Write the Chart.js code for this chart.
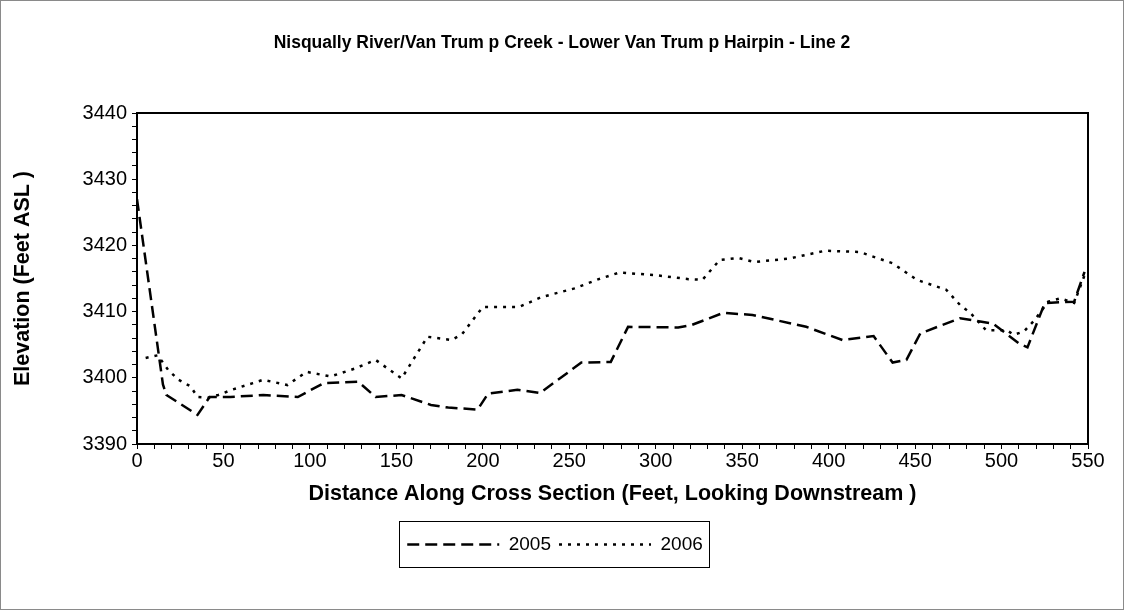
<!DOCTYPE html>
<html>
<head>
<meta charset="utf-8">
<script src="https://cdn.jsdelivr.net/npm/chart.js@4"></script>
<style>
  html, body { margin: 0; padding: 0; background: #ffffff; }
  #wrap { width: 1124px; height: 610px; position: relative; }
  canvas { display: block; }
</style>
</head>
<body>
<div id="wrap"><canvas id="c" width="1124" height="610"></canvas></div>
<script>
// ---- Data ----
const chartTitle = "Nisqually River/Van Trum p Creek - Lower Van Trum p Hairpin - Line 2";
const xAxisTitle = "Distance Along Cross Section (Feet, Looking Downstream )";
const yAxisTitle = "Elevation (Feet ASL )";
const seriesNames = ["2005", "2006"];

const dist2005 = [0, 15, 17, 35, 42, 54, 73, 93, 108, 128, 138, 153, 170, 180, 197, 203, 220, 233, 257, 274, 284, 313, 321, 339, 356, 387, 408, 426, 437, 445, 453, 476, 495, 510, 515, 525, 542, 548];
const elev2005 = [3427, 3399, 3397.4, 3394.4, 3397.1, 3397.1, 3397.4, 3397.1, 3399.2, 3399.4, 3397.1, 3397.4, 3395.9, 3395.5, 3395.2, 3397.6, 3398.2, 3397.7, 3402.3, 3402.4, 3407.7, 3407.6, 3408, 3409.8, 3409.5, 3407.7, 3405.7, 3406.3, 3402.3, 3402.7, 3406.7, 3409, 3408.2, 3405.2, 3404.6, 3411.3, 3411.5, 3416];

const dist2006 = [5, 12, 18, 24, 31, 35, 41, 47, 55, 67, 73, 87, 98, 112, 126, 138, 153, 168, 182, 188, 200, 221, 234, 253, 267, 279, 300, 319, 327, 337, 348, 357, 377, 398, 418, 437, 451, 468, 476, 482, 491, 503, 507, 513, 519, 527, 534, 542, 548];
const elev2006 = [3403, 3403.4, 3401.2, 3399.7, 3398.7, 3397.1, 3397, 3397.4, 3398.2, 3399.2, 3399.7, 3398.9, 3400.9, 3400.2, 3401.4, 3402.7, 3399.9, 3406.2, 3405.7, 3406.6, 3410.7, 3410.7, 3412.2, 3413.5, 3414.9, 3415.9, 3415.5, 3414.9, 3414.8, 3417.8, 3418.1, 3417.5, 3418, 3419.2, 3419, 3417.3, 3414.8, 3413.3, 3411, 3409.8, 3407.2, 3407.2, 3406.5, 3407, 3408.7, 3411.5, 3412, 3411.3, 3415.5];

const xMin = 0, xMax = 550, xMajor = 50, xMinor = 10;
const yMin = 3390, yMax = 3440, yMajor = 10, yMinor = 2;

const toPoints = (xs, ys) => xs.map((x, i) => ({ x: x, y: ys[i] }));

const FONT = "'Liberation Sans', Arial, Helvetica, sans-serif";
const LEGEND_SHIFT = 6;
const TITLE_SHIFT = 13;

// frame + plot border + legend box
const decor = {
  id: 'decor',
  afterUpdate(chart) {
    const lg = chart.legend;
    if (lg) {
      lg.left += LEGEND_SHIFT;
      lg.right += LEGEND_SHIFT;
      (lg.legendHitBoxes || []).forEach(h => { h.left += LEGEND_SHIFT; });
    }
    const tb = chart.titleBlock;
    if (tb) {
      tb.left += TITLE_SHIFT;
      tb.right += TITLE_SHIFT;
    }
  },
  afterDraw(chart) {
    const ctx = chart.ctx;
    const a = chart.chartArea;
    ctx.save();
    // outer frame
    ctx.strokeStyle = '#8a8a8a';
    ctx.lineWidth = 1;
    ctx.strokeRect(0.5, 0.5, chart.width - 1, chart.height - 1);
    // plot rectangle
    ctx.strokeStyle = '#000';
    ctx.lineWidth = 2;
    ctx.strokeRect(a.left, a.top, a.right - a.left, a.bottom - a.top);
    // legend box
    const hb = chart.legend && chart.legend.legendHitBoxes;
    if (hb && hb.length) {
      let l = Infinity, r = -Infinity, t = Infinity, b = -Infinity;
      hb.forEach(h => { l = Math.min(l, h.left); r = Math.max(r, h.left + h.width); t = Math.min(t, h.top); b = Math.max(b, h.top + h.height); });
      ctx.lineWidth = 1;
      ctx.strokeStyle = '#000';
      ctx.strokeRect(Math.round(l - 8) + 0.5, Math.round(t - 14) + 0.5, Math.round(r - l + 14), Math.round(b - t + 27));
    }
    ctx.restore();
  }
};

new Chart(document.getElementById('c'), {
  type: 'scatter',
  data: {
    datasets: [
      {
        label: seriesNames[0],
        data: toPoints(dist2005, elev2005),
        showLine: true,
        borderColor: '#000',
        backgroundColor: '#000',
        borderWidth: 2.5,
        borderDash: [12, 6],
        pointRadius: 0,
        pointStyle: 'line',
        tension: 0
      },
      {
        label: seriesNames[1],
        data: toPoints(dist2006, elev2006),
        showLine: true,
        borderColor: '#000',
        backgroundColor: '#000',
        borderWidth: 2.5,
        borderDash: [3, 6],
        pointRadius: 0,
        pointStyle: 'line',
        tension: 0
      }
    ]
  },
  options: {
    responsive: false,
    animation: false,
    devicePixelRatio: 1,
    layout: { padding: { top: 0, left: 10, right: 36, bottom: 46 } },
    plugins: {
      title: {
        display: true,
        text: chartTitle,
        color: '#000',
        font: { family: FONT, size: 17.5, weight: 'bold' },
        padding: { top: 33, bottom: 59 }
      },
      legend: {
        display: true,
        position: 'bottom',
        labels: {
          color: '#000',
          font: { family: FONT, size: 19 },
          usePointStyle: true,
          pointStyleWidth: 92,
          padding: 8,
          generateLabels(chart) {
            const items = Chart.defaults.plugins.legend.labels.generateLabels(chart);
            items.forEach((it) => {
              const ds = chart.data.datasets[it.datasetIndex];
              it.lineDash = ds.borderDash;
              it.lineWidth = ds.borderWidth;
              it.strokeStyle = ds.borderColor;
              it.pointStyle = 'line';
            });
            return items;
          }
        }
      },
      tooltip: { enabled: false }
    },
    scales: {
      x: {
        type: 'linear',
        min: xMin, max: xMax,
        afterFit(scale) { scale.height = 83; },
        ticks: {
          stepSize: xMinor,
          autoSkip: false,
          maxRotation: 0,
          color: '#000',
          padding: 0,
          font: { family: FONT, size: 20 },
          callback: (v) => (v % xMajor === 0 ? String(v) : '')
        },
        grid: { display: true, drawOnChartArea: false, drawTicks: true, tickLength: 5, color: '#000', lineWidth: 1 },
        border: { display: true, color: '#000', width: 2 },
        title: {
          display: true,
          text: xAxisTitle,
          color: '#000',
          font: { family: FONT, size: 21.5, weight: 'bold' },
          padding: { top: 2, bottom: 20 }
        }
      },
      y: {
        type: 'linear',
        min: yMin, max: yMax,
        afterFit(scale) { scale.width = 127; },
        ticks: {
          stepSize: yMinor,
          autoSkip: false,
          color: '#000',
          padding: 5,
          font: { family: FONT, size: 20 },
          callback: (v) => (v % yMajor === 0 ? String(v) : '')
        },
        grid: { display: true, drawOnChartArea: false, drawTicks: true, tickLength: 5, color: '#000', lineWidth: 1 },
        border: { display: true, color: '#000', width: 2 },
        title: {
          display: true,
          text: yAxisTitle,
          color: '#000',
          font: { family: FONT, size: 21.5, weight: 'bold' },
          padding: { top: 0, bottom: 0 }
        }
      }
    }
  },
  plugins: [decor]
});
</script>
</body>
</html>
